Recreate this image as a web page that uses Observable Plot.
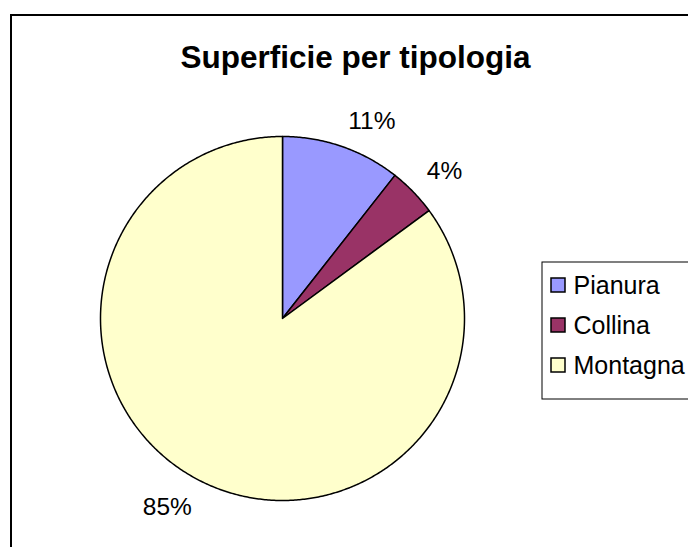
<!DOCTYPE html>
<html><head><meta charset="utf-8">
<script src="https://cdn.jsdelivr.net/npm/d3@7"></script>
<script src="https://cdn.jsdelivr.net/npm/@observablehq/plot@0.6"></script>
<style>html,body{margin:0;padding:0;background:#fff;overflow:hidden}</style>
</head><body><div id="chart"></div>
<script>
const categories = ["Pianura", "Collina", "Montagna"];
const values = [10.6, 4.3, 85.1];
const percentLabels = ["11%", "4%", "85%"];
const chartTitle = "Superficie per tipologia";

const W = 688, H = 547;
const cx = 282, cy = 318, R = 182, labelR = 201;
const font = "'Liberation Sans', Arial, sans-serif";

const arcs = d3.pie().sort(null).value(d => d.value)(
  categories.map((c, i) => ({category: c, value: values[i], label: percentLabels[i]}))
);

const slicePts = [];
arcs.forEach(a => {
  const n = Math.max(2, Math.ceil((a.endAngle - a.startAngle) / (Math.PI / 360)));
  slicePts.push({category: a.data.category, px: cx, py: cy});
  for (let k = 0; k <= n; k++) {
    const t = a.startAngle + (a.endAngle - a.startAngle) * k / n;
    slicePts.push({category: a.data.category, px: cx + R * Math.sin(t), py: cy - R * Math.cos(t)});
  }
});

const labelData = arcs.map(a => {
  const m = (a.startAngle + a.endAngle) / 2;
  return {label: a.data.label, px: cx + labelR * Math.sin(m), py: cy - labelR * Math.cos(m),
          right: Math.sin(m) >= 0, top: Math.cos(m) >= 0};
});

const legendData = categories.map((c, i) => ({category: c, py: 285 + 40 * i}));

function labelMark(filter, textAnchor, lineAnchor) {
  return Plot.text(labelData.filter(filter), {
    x: "px", y: "py", text: "label", textAnchor, lineAnchor,
    fontSize: 24.5, fill: "black"
  });
}

const plot = Plot.plot({
  width: W, height: H,
  marginTop: 0, marginRight: 0, marginBottom: 0, marginLeft: 0,
  x: {domain: [0, W], range: [0, W], axis: null},
  y: {domain: [0, H], range: [0, H], axis: null},
  color: {domain: categories, range: ["#9999FF", "#993366", "#FFFFCC"]},
  style: {fontFamily: font, background: "white", overflow: "hidden"},
  marks: [
    Plot.rect([0], {x1: () => 11, x2: () => W + 10, y1: () => 15, y2: () => H + 10,
      fill: "none", stroke: "black", strokeWidth: 2}),
    Plot.line(slicePts, {x: "px", y: "py", z: "category", fill: "category",
      stroke: "black", strokeWidth: 1.5, curve: "linear-closed", strokeLinejoin: "round"}),
    labelMark(d => d.right && d.top, "start", "bottom"),
    labelMark(d => !d.right && d.top, "end", "bottom"),
    labelMark(d => d.right && !d.top, "start", "top"),
    labelMark(d => !d.right && !d.top, "end", "top"),
    Plot.rect([0], {x1: () => 542, x2: () => W + 10, y1: () => 262, y2: () => 399,
      fill: "white", stroke: "black", strokeWidth: 1}),
    Plot.rect(legendData, {x1: () => 551, x2: () => 565, y1: d => d.py - 7, y2: d => d.py + 7,
      fill: "category", stroke: "black", strokeWidth: 1.5}),
    Plot.text(legendData, {x: () => 573, y: "py", text: "category", textAnchor: "start",
      lineAnchor: "middle", fontSize: 25, fill: "black"}),
    Plot.text([chartTitle], {x: () => 355, y: () => 67, text: d => d, textAnchor: "middle",
      lineAnchor: "bottom", fontSize: 31.5, fontWeight: "bold", fill: "black"})
  ]
});
document.getElementById("chart").appendChild(plot);
</script>
</body></html>
